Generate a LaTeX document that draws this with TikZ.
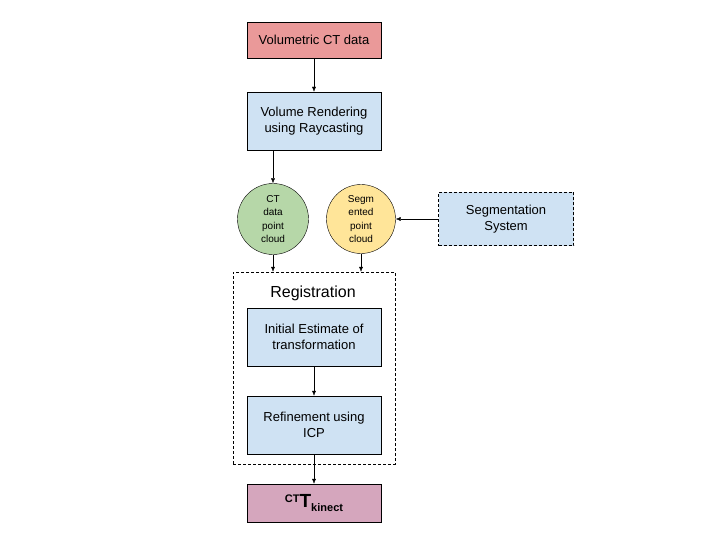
\documentclass[tikz,border=0pt]{standalone}
\usepackage{fontspec}
\setmainfont{Liberation Sans}
\usetikzlibrary{arrows.meta}
\definecolor{ctred}{HTML}{EA9999}
\definecolor{procblue}{HTML}{CFE2F3}
\definecolor{ptgreen}{HTML}{B6D7A8}
\definecolor{ptyellow}{HTML}{FFE599}
\definecolor{outpink}{HTML}{D5A6BD}

\begin{document}
\begin{tikzpicture}[x=1pt,y=-1pt,>={Latex[length=5pt,width=4pt]},
    proc/.style={draw,fill=procblue,minimum width=134pt,minimum height=58pt,inner sep=0pt,align=center,font=\fontsize{13}{16}\selectfont},
    pcloud/.style={draw,circle,minimum size=71pt,inner sep=0pt,align=center,font=\fontsize{10}{13.3}\selectfont},
    dashbox/.style={draw,dash pattern=on 3pt off 2pt}]
  \useasboundingbox[fill=white] (0,0) rectangle (720,540);

  \node[proc,fill=ctred,minimum height=36pt] (vol) at (314,40) {Volumetric CT data};
  \node[proc] (render) at (314,121) {Volume Rendering\\using Raycasting};
  \node[pcloud,fill=ptgreen] (ctpc) at (273,219) {CT\\data\\point\\cloud};
  \node[pcloud,fill=ptyellow,minimum size=69pt] (segpc) at (361,219) {Segm\\ented\\point\\cloud};
  \node[proc,dashbox,minimum width=135pt,minimum height=53pt] (segsys) at (506,219) {Segmentation\\System};

  % registration block
  \node[dashbox,minimum width=162pt,minimum height=192pt] (reg) at (314,368) {};
  \node[font=\fontsize{16}{18}\selectfont] (reglabel) at (313,293) {Registration};
  \node[proc] (init) at (314,337) {Initial Estimate of\\transformation};
  \node[proc] (refine) at (314,425) {Refinement using\\ICP};

  \node[proc,fill=outpink,minimum height=38pt] (out) at (314,503)
    {\bfseries\fontsize{11}{13}\selectfont\raisebox{5pt}{CT}\fontsize{19}{20}\selectfont T\fontsize{11}{13}\selectfont\raisebox{-4pt}{kinect}};

  \draw[->] (vol.south) -- (render.north);
  \draw[->] (ctpc.north |- render.south) -- (ctpc.north);
  \draw[->] (segsys.west) -- (segpc.east);
  \draw[->] (ctpc.south) -- (ctpc.south |- reg.north);
  \draw[->] (segpc.south) -- (segpc.south |- reg.north);
  \draw[->] (init.south) -- (refine.north);
  \draw[->] (refine.south) -- (out.north);
\end{tikzpicture}
\end{document}
